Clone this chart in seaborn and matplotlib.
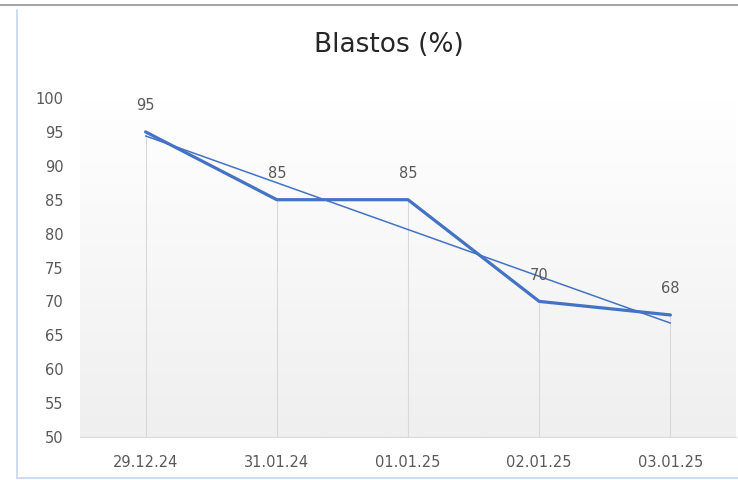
from matplotlib import pyplot as plt
from matplotlib.colors import LinearSegmentedColormap
from matplotlib.lines import Line2D
import numpy as np
import pandas as pd
import seaborn as sns

# datos del grafico
fechas = ["29.12.24", "31.01.24", "01.01.25", "02.01.25", "03.01.25"]
blastos = [95, 85, 85, 70, 68]
y_ticks = list(range(50, 101, 5))

azul = "#4472C4"
gris_txt = "#595959"

df = pd.DataFrame({"pos": range(len(fechas)), "fecha": fechas, "blastos": blastos})

sns.set_theme(style="white")
plt.rcParams["font.family"] = ["DejaVu Sans"]

W, H = 738, 480
fig = plt.figure(figsize=(W / 100, H / 100), dpi=100)
fig.patch.set_facecolor("white")
ax = fig.add_axes([80 / W, 1 - 437 / H, (736 - 80) / W, (437 - 98) / H])

# fondo degradado del area de trazado
cmap = LinearSegmentedColormap.from_list("bg", ["#ffffff", "#efefef"])
ax.imshow(np.linspace(0, 1, 256).reshape(-1, 1), cmap=cmap, aspect="auto",
          extent=[0, 1, 0, 1], transform=ax.transAxes, zorder=0)

# lineas de caida
ax.vlines(df["pos"], 50, df["blastos"], color="#d9d9d9", lw=0.8, zorder=1)

# linea de tendencia lineal
sns.regplot(data=df, x="pos", y="blastos", scatter=False, ci=None, truncate=True,
            color=azul, line_kws=dict(lw=1.1, zorder=3), ax=ax)

sns.lineplot(data=df, x="pos", y="blastos", color=azul, lw=2.3, ax=ax,
             solid_joinstyle="round", zorder=4)

for x, y in zip(df["pos"], df["blastos"]):
    ax.annotate(str(y), (x, y), xytext=(0, 19), textcoords="offset points",
                ha="center", va="center", fontsize=10.5, color=gris_txt)

ax.set_xlim(-0.5, 4.5)
ax.set_ylim(50, 100)
ax.set_xticks(df["pos"], fechas)
ax.set_yticks(y_ticks)
ax.set_xlabel("")
ax.set_ylabel("")
ax.tick_params(axis="x", length=0, pad=13, labelsize=10.5, colors=gris_txt)
ax.tick_params(axis="y", length=0, pad=12, labelsize=10.5, colors=gris_txt)
for s in ["top", "left", "right"]:
    ax.spines[s].set_visible(False)
ax.spines["bottom"].set_color("#d9d9d9")
ax.spines["bottom"].set_linewidth(0.8)
ax.grid(False)

fig.text(389 / W, 1 - 45 / H, "Blastos (%)", ha="center", va="center",
         fontsize=19, color="#262626")

# bordes de la captura
fig.add_artist(Line2D([0, 1], [1 - 5 / H, 1 - 5 / H], transform=fig.transFigure,
                      color="#a6a6a6", lw=1.5))
fig.add_artist(Line2D([17 / W, 17 / W], [1 - 478 / H, 1 - 10 / H], transform=fig.transFigure,
                      color="#c6d4ec", lw=1.2))
fig.add_artist(Line2D([17 / W, 1], [1 - 478 / H, 1 - 478 / H], transform=fig.transFigure,
                      color="#c6d4ec", lw=1.2))

fig.savefig("out.png", dpi=100)
